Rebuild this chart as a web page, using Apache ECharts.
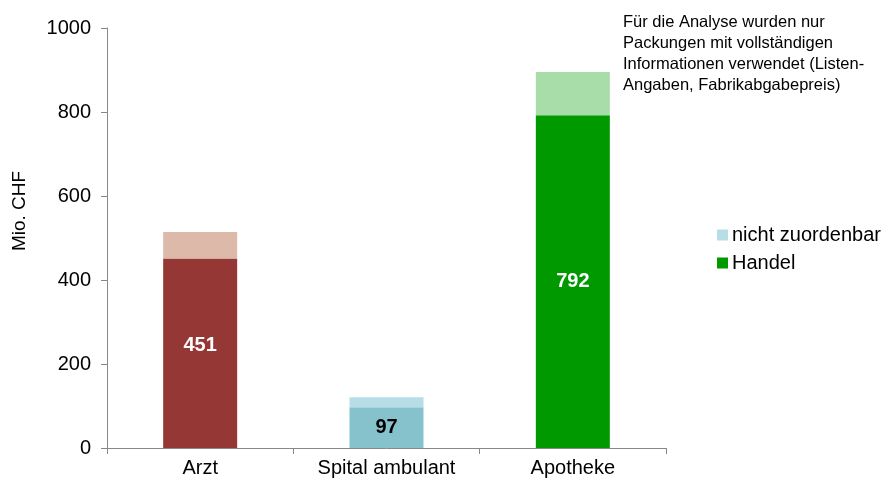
<!DOCTYPE html>
<html><head><meta charset="utf-8">
<script src="https://cdn.jsdelivr.net/npm/echarts@6/dist/echarts.min.js"></script>
<style>html,body{margin:0;padding:0;background:#fff}#c{width:882px;height:479px}</style>
</head><body><div id="c"></div>
<script>
const categories = ['Arzt', 'Spital ambulant', 'Apotheke'];
const handel = [451, 97, 792];
const nichtZuordenbar = [63, 24, 103];
const yTicks = [0, 200, 400, 600, 800, 1000];
const baseColors = ['#953735', '#86c2cc', '#009900'];
const topColors = ['#dcb9a8', '#b7dee6', '#a8dca8'];
const labelColors = ['#ffffff', '#000000', '#ffffff'];
const labelShift = [-8, 0, 0];
const yAxisTitle = 'Mio. CHF';
const note = 'Für die Analyse wurden nur\nPackungen mit vollständigen\nInformationen verwendet (Listen-\nAngaben, Fabrikabgabepreis)';

const chart = echarts.init(document.getElementById('c'));
const font = 'Liberation Sans, Arial, sans-serif';
chart.setOption({
  animation: false,
  textStyle: { fontFamily: font },
  grid: { left: 107, right: 216, top: 28, bottom: 31 },
  legend: {
    orient: 'vertical', left: 712, top: 220, itemWidth: 11, itemHeight: 11, itemGap: 8,
    icon: 'rect',
    textStyle: { fontSize: 20, color: '#000', fontFamily: font, padding: [0, 0, 0, -1] },
    data: ['nicht zuordenbar', 'Handel']
  },
  xAxis: {
    type: 'category', data: categories,
    axisLine: { lineStyle: { color: '#888' } },
    axisTick: { show: true, alignWithLabel: false, length: 6, lineStyle: { color: '#888' } },
    axisLabel: { fontSize: 20, color: '#000', margin: 10, fontFamily: font }
  },
  yAxis: {
    type: 'value', min: yTicks[0], max: yTicks[yTicks.length - 1], interval: 200,
    axisLine: { show: true, lineStyle: { color: '#888' } },
    axisTick: { show: true, length: 6, lineStyle: { color: '#888' } },
    splitLine: { show: false },
    axisLabel: { fontSize: 20, color: '#000', margin: 16, fontFamily: font, formatter: v => String(v) }
  },
  series: [
    {
      name: 'Handel', type: 'bar', stack: 's', barWidth: 74,
      itemStyle: { color: '#009900' },
      data: handel.map((v, i) => ({
        value: v, itemStyle: { color: baseColors[i] },
        label: { show: true, position: 'inside', offset: [0, labelShift[i]], color: labelColors[i], fontWeight: 'bold', fontSize: 20, fontFamily: font }
      }))
    },
    {
      name: 'nicht zuordenbar', type: 'bar', stack: 's', barWidth: 74,
      itemStyle: { color: '#b7dee6' },
      data: nichtZuordenbar.map((v, i) => ({ value: v, itemStyle: { color: topColors[i] } }))
    }
  ],
  graphic: [
    {
      type: 'text', x: 20, y: 211, rotation: Math.PI / 2,
      style: { text: yAxisTitle, fontSize: 19, fill: '#000', fontFamily: font, align: 'center', verticalAlign: 'middle' }
    },
    {
      type: 'text', left: 623, top: 12,
      style: { text: note, fontSize: 16.5, lineHeight: 21, fill: '#000', fontFamily: font }
    }
  ]
});
</script></body></html>
